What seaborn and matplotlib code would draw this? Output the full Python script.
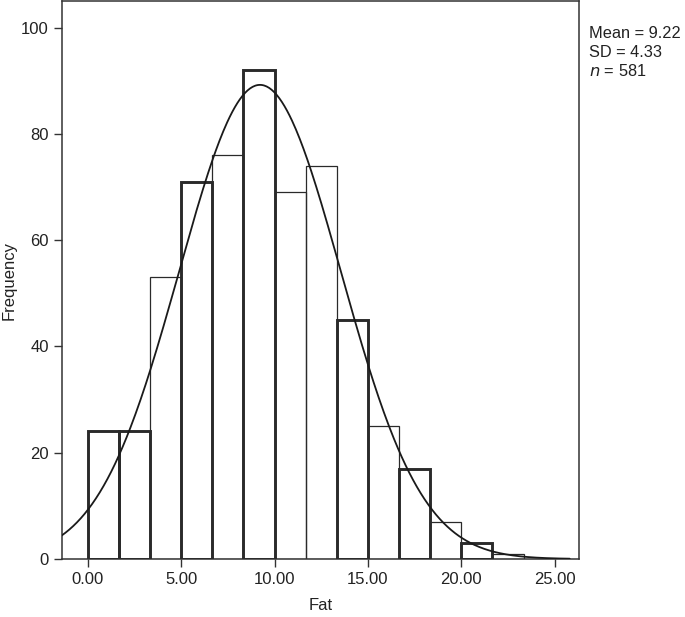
import numpy as np
import matplotlib
matplotlib.use("Agg")
import matplotlib.pyplot as plt
import seaborn as sns

# histogram of fat, bin width 5/3 starting at 0
bin_edges = [0.0, 5/3, 10/3, 5.0, 20/3, 25/3, 10.0, 35/3, 40/3, 15.0, 50/3, 55/3, 20.0, 65/3, 70/3]
counts = [24, 24, 53, 71, 76, 92, 69, 74, 45, 25, 17, 7, 3, 1]
mean_fat = 9.22
sd_fat = 4.33
n_total = 581

x_ticks = [0, 5, 10, 15, 20, 25]
x_tick_labels = ["0.00", "5.00", "10.00", "15.00", "20.00", "25.00"]
y_ticks = [0, 20, 40, 60, 80, 100]

# bars drawn with the heavier outline in the original output
heavy_bars = [0, 1, 3, 5, 8, 10, 12]

sns.set_style("white")
plt.rcParams["font.family"] = ["Liberation Sans", "DejaVu Sans"]

fig = plt.figure(figsize=(6.85, 6.17), dpi=100)
ax = fig.add_axes([62/685, 58/617, (579-62)/685, (616-58)/617])

bin_left = bin_edges[:-1]
sns.histplot(x=bin_left, weights=counts, bins=bin_edges, fill=False,
             element="bars", color="#2a2a2a", linewidth=0.9, ax=ax)
for i, p in enumerate(ax.patches):
    p.set_edgecolor("#2a2a2a")
    if i in heavy_bars:
        p.set_linewidth(2.1)
        p.set_zorder(3)
    else:
        p.set_zorder(2)

# fitted normal curve
width = bin_edges[1] - bin_edges[0]
xs = np.linspace(-1.4, 25.8, 400)
ys = n_total * width / (sd_fat * np.sqrt(2 * np.pi)) * np.exp(-0.5 * ((xs - mean_fat) / sd_fat) ** 2)
sns.lineplot(x=xs, y=ys, color="#1a1a1a", linewidth=1.3, ax=ax, zorder=4)

ax.set_xlim(-1.38, 26.3)
ax.set_ylim(0, 105)
ax.set_xticks(x_ticks)
ax.set_xticklabels(x_tick_labels)
ax.set_yticks(y_ticks)
ax.tick_params(axis="both", direction="out", length=6, width=1, color="#333333",
               labelsize=12, labelcolor="#222222", bottom=True, left=True)
for s in ax.spines.values():
    s.set_color("#333333")
    s.set_linewidth(1.1)
ax.set_xlabel("Fat", fontsize=12, color="#222222", labelpad=8)
ax.set_ylabel("Frequency", fontsize=12, color="#222222")
ax.yaxis.set_label_coords(-45/517, 0.5)

fig.text(589/685, 1 - 38/617, "Mean = 9.22", fontsize=11.8, color="#222222", va="baseline")
fig.text(589/685, 1 - 57/617, "SD = 4.33", fontsize=11.8, color="#222222", va="baseline")
fig.text(589/685, 1 - 76/617, r"$\it{n}$ = 581", fontsize=11.8, color="#222222", va="baseline")

fig.savefig("out.png", dpi=100)
